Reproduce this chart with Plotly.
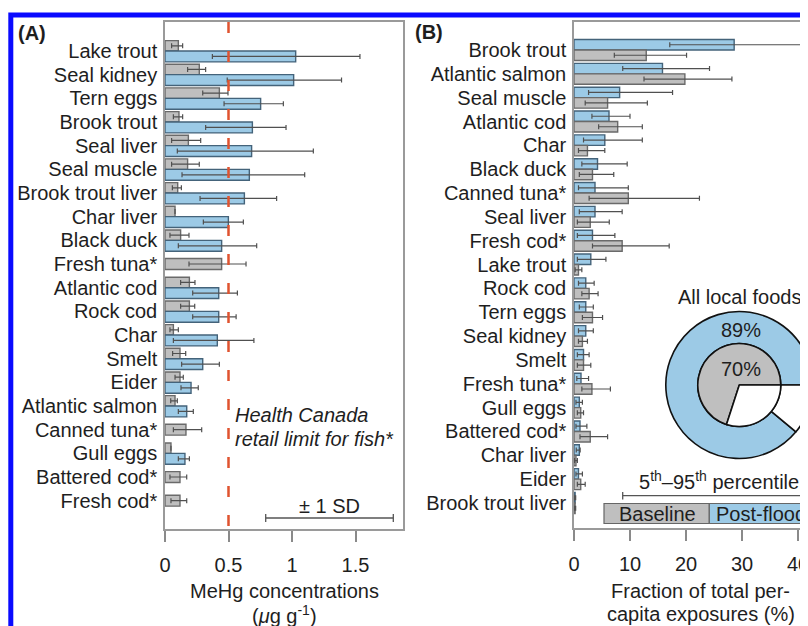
import plotly.graph_objects as go

W, H = 808, 626
OFF = 8  # page body margin offset


def px(x):
    return (x - OFF) / W


def py(y):
    return 1 - (y - OFF) / H


# ---------------- Panel A data: MeHg concentrations (ug/g) ----------------
A_foods = ["Lake trout", "Seal kidney", "Tern eggs", "Brook trout", "Seal liver",
           "Seal muscle", "Brook trout liver", "Char liver", "Black duck", "Fresh tuna*",
           "Atlantic cod", "Rock cod", "Char", "Smelt", "Eider", "Atlantic salmon",
           "Canned tuna*", "Gull eggs", "Battered cod*", "Fresh cod*"]
A_base    = [0.105, 0.27, 0.428, 0.11, 0.184, 0.178, 0.10, 0.079, 0.123, 0.446,
             0.192, 0.192, 0.066, 0.118, 0.118, 0.079, 0.165, 0.047, 0.118, 0.118]
A_base_lo = [0.052, 0.178, 0.297, 0.066, 0.052, 0.052, 0.058, 0.079, 0.039, 0.189,
             0.123, 0.123, 0.039, 0.060, 0.079, 0.045, 0.066, 0.047, 0.039, 0.047]
A_base_hi = [0.139, 0.32, 0.496, 0.139, 0.281, 0.27, 0.129, 0.079, 0.189, 0.638,
             0.236, 0.234, 0.105, 0.163, 0.144, 0.097, 0.289, 0.047, 0.171, 0.171]
A_post    = [1.029, 1.013, 0.753, 0.688, 0.682, 0.664, 0.625, 0.499, 0.446, None,
             0.423, 0.423, 0.412, 0.297, 0.205, 0.171, None, 0.157, None, None]
A_post_lo = [0.373, 0.49, 0.465, 0.32, 0.097, 0.134, 0.276, 0.302, 0.105, None,
             0.218, 0.218, 0.066, 0.131, 0.126, 0.105, None, 0.105, None, None]
A_post_hi = [1.535, 1.39, 0.932, 0.953, 1.168, 1.10, 0.879, 0.617, 0.722, None,
             0.57, 0.56, 0.70, 0.428, 0.262, 0.223, None, 0.192, None, None]
A_ticks = [0, 0.5, 1, 1.5]
A_tick_labels = ["0", "0.5", "1", "1.5"]
HC_LIMIT = 0.5

# ---------------- Panel B data: fraction of exposures (%) ----------------
B_foods = ["Brook trout", "Atlantic salmon", "Seal muscle", "Atlantic cod", "Char",
           "Black duck", "Canned tuna*", "Seal liver", "Fresh cod*", "Lake trout",
           "Rock cod", "Tern eggs", "Seal kidney", "Smelt", "Fresh tuna*", "Gull eggs",
           "Battered cod*", "Char liver", "Eider", "Brook trout liver"]
B_post    = [28.6, 15.8, 8.15, 6.25, 5.5, 4.2, 3.75, 3.75, 3.3, 3.0,
             2.1, 2.1, 2.1, 1.7, 1.25, 0.95, 1.07, 0.95, 0.8, 0.2]
B_post_lo = [17.1, 8.7, 2.6, 3.2, 1.7, 1.4, 0.8, 0.95, 0.6, 0.6,
             0.8, 0.95, 0.8, 0.6, 0.5, 0.35, 0.35, 0.4, 0.35, 0.1]
B_post_hi = [41.6, 24.2, 17.6, 10.0, 12.2, 9.5, 9.7, 8.6, 7.3, 5.7,
             3.6, 3.45, 3.45, 2.7, 2.6, 1.5, 2.3, 1.1, 1.5, 0.3]
B_base    = [12.9, 19.8, 6.0, 7.8, 2.4, 3.3, 9.7, 2.9, 8.6, 0.8,
             2.7, 3.3, 1.5, 1.7, 3.2, 1.2, 2.9, 0.35, 1.2, 0.2]
B_base_lo = [7.2, 12.5, 2.0, 4.4, 0.8, 0.95, 2.7, 0.6, 3.3, 0.2,
             1.4, 1.5, 0.8, 0.6, 1.4, 0.6, 1.07, 0.1, 0.6, 0.1]
B_base_hi = [20.1, 28.2, 13.1, 12.2, 5.5, 7.1, 22.4, 6.3, 17.0, 1.4,
             4.3, 5.1, 2.4, 3.0, 6.5, 1.7, 6.0, 0.6, 2.0, 0.3]
B_ticks = [0, 10, 20, 30, 40]

# Donut: all local foods share of exposure
PIE_LABELS = ["Local foods", "Other"]
PIE_POST = [89, 11]
PIE_BASE = [70, 30]

GRAY = "#bfbfbf"; GRAY_EDGE = "#6a6a6a"
BLUE = "#9ccae6"; BLUE_EDGE = "#44637a"
ERR = "#505050"
RED = "#e0532f"
FONT = "Liberation Sans, Arial, Helvetica, sans-serif"
TXT = "#1e1e1e"


def err_plus(v, hi):
    return [None if a is None else b - a for a, b in zip(v, hi)]


def err_minus(v, lo):
    return [None if a is None else a - b for a, b in zip(v, lo)]


def errx(v, lo, hi):
    return dict(type="data", symmetric=False, array=err_plus(v, hi),
                arrayminus=err_minus(v, lo), color=ERR, thickness=1.2, width=2.5)


fig = go.Figure()

single = [p is None for p in A_post]
fig.add_trace(go.Bar(
    x=A_base, y=A_foods, orientation="h", name="Baseline",
    offset=[-0.23 if s else -0.44 for s in single],
    width=[0.46 if s else 0.44 for s in single],
    marker=dict(color=GRAY, line=dict(color=GRAY_EDGE, width=1.4)),
    error_x=errx(A_base, A_base_lo, A_base_hi),
    xaxis="x", yaxis="y", showlegend=False, hoverinfo="x+y"))
fig.add_trace(go.Bar(
    x=A_post, y=A_foods, orientation="h", name="Post-flood",
    offset=0, width=0.46,
    marker=dict(color=BLUE, line=dict(color=BLUE_EDGE, width=1.4)),
    error_x=errx(A_post, A_post_lo, A_post_hi),
    xaxis="x", yaxis="y", showlegend=False, hoverinfo="x+y"))

fig.add_trace(go.Bar(
    x=B_post, y=B_foods, orientation="h", name="Post-flood",
    offset=-0.44, width=0.44,
    marker=dict(color=BLUE, line=dict(color=BLUE_EDGE, width=1.4)),
    error_x=errx(B_post, B_post_lo, B_post_hi),
    xaxis="x2", yaxis="y2", showlegend=False, hoverinfo="x+y"))
fig.add_trace(go.Bar(
    x=B_base, y=B_foods, orientation="h", name="Baseline",
    offset=0, width=0.44,
    marker=dict(color=GRAY, line=dict(color=GRAY_EDGE, width=1.4)),
    error_x=errx(B_base, B_base_lo, B_base_hi),
    xaxis="x2", yaxis="y2", showlegend=False, hoverinfo="x+y"))

# donut (outer = post-flood, inner = baseline); first slice ends at 3 o'clock
CX, CY, RO, RI = 739.3, 385, 73.5, 41.5
rot_post = 90 + 360 * PIE_POST[1] / sum(PIE_POST)
rot_base = 90 + 360 * PIE_BASE[1] / sum(PIE_BASE)
fig.add_trace(go.Pie(
    labels=PIE_LABELS, values=PIE_POST, hole=RI / RO, sort=False,
    direction="clockwise", rotation=rot_post, textinfo="none",
    marker=dict(colors=[BLUE, "white"], line=dict(color="#111", width=1.6)),
    domain=dict(x=[px(CX - RO), px(CX + RO)], y=[py(CY + RO), py(CY - RO)]),
    showlegend=False, hoverinfo="label+value"))
fig.add_trace(go.Pie(
    labels=PIE_LABELS, values=PIE_BASE, sort=False,
    direction="clockwise", rotation=rot_base, textinfo="none",
    marker=dict(colors=[GRAY, "white"], line=dict(color="#111", width=1.6)),
    domain=dict(x=[px(CX - RI), px(CX + RI)], y=[py(CY + RI), py(CY - RI)]),
    showlegend=False, hoverinfo="label+value"))

axis_common = dict(showgrid=False, zeroline=False, showline=True, linecolor="#9a9a9a",
                   linewidth=1.5, tickfont=dict(size=20, color=TXT, family=FONT))

fig.update_layout(
    width=W, height=H, margin=dict(l=0, r=0, t=0, b=0, autoexpand=False),
    paper_bgcolor="white", plot_bgcolor="white", barmode="overlay",
    font=dict(family=FONT, size=20, color=TXT),
    xaxis=dict(domain=[px(165), px(403)], range=[0, (403 - 165) / 127.0], anchor="y",
               tickvals=A_ticks, ticktext=A_tick_labels, ticks="outside", ticklen=11,
               tickwidth=1.5, tickcolor="#8a8a8a", mirror=True, ticklabelstandoff=6,
               **axis_common),
    yaxis=dict(domain=[py(529), py(22)], type="category", anchor="x",
               range=[20.196, -1.225], ticks="", mirror=True, ticklabelstandoff=2,
               tickmode="array", tickvals=A_foods, ticktext=A_foods,
               **axis_common),
    xaxis2=dict(domain=[px(574), 1], range=[0, (W + OFF - 574) / 5.6], anchor="y2",
                tickvals=B_ticks, ticks="outside", ticklen=11, tickwidth=1.5,
                tickcolor="#8a8a8a", mirror=True, ticklabelstandoff=6, **axis_common),
    yaxis2=dict(domain=[py(528), py(22)], type="category", anchor="x2",
                range=[20.05, -1.174], ticks="", mirror=False, ticklabelstandoff=2,
                tickmode="array", tickvals=B_foods, ticktext=B_foods,
                **axis_common),
)

shapes = []
# Health Canada retail limit
shapes.append(dict(type="line", xref="x", yref="paper", x0=HC_LIMIT, x1=HC_LIMIT,
                   y0=py(22), y1=py(529), line=dict(color=RED, width=2.5, dash="11px,18px")))
# +-1 SD legend line
shapes.append(dict(type="line", xref="paper", yref="paper", x0=px(265.7), x1=px(393.3),
                   y0=py(518), y1=py(518), line=dict(color="#555", width=1.3)))
for xx in (265.7, 393.3):
    shapes.append(dict(type="line", xref="paper", yref="paper", x0=px(xx), x1=px(xx),
                       y0=py(514), y1=py(522), line=dict(color="#555", width=1.3)))
# 5th-95th percentile legend line
shapes.append(dict(type="line", xref="paper", yref="paper", x0=px(622.7), x1=1.05,
                   y0=py(495.7), y1=py(495.7), line=dict(color="#555", width=1.3)))
shapes.append(dict(type="line", xref="paper", yref="paper", x0=px(622.7), x1=px(622.7),
                   y0=py(492), y1=py(499.5), line=dict(color="#555", width=1.3)))
# Baseline / Post-flood legend box
shapes.append(dict(type="rect", xref="paper", yref="paper", x0=px(604), x1=px(709.3),
                   y0=py(523.5), y1=py(503.5), fillcolor=GRAY,
                   line=dict(color="#666", width=1.2)))
shapes.append(dict(type="rect", xref="paper", yref="paper", x0=px(709.3), x1=1.05,
                   y0=py(523.5), y1=py(503.5), fillcolor=BLUE,
                   line=dict(color="#666", width=1.2)))
# blue outer frame of the figure
shapes.append(dict(type="rect", xref="paper", yref="paper", x0=px(10.8), x1=1.1,
                   y0=-0.1, y1=py(15), line=dict(color="#0a0aff", width=5),
                   fillcolor="rgba(0,0,0,0)"))
fig.update_layout(shapes=shapes)


def ann(text, x, y, xanchor="center", size=20, **kw):
    return dict(text=text, x=px(x), y=py(y), xref="paper", yref="paper",
                xanchor=xanchor, yanchor="middle", showarrow=False,
                font=dict(size=size, color=TXT, family=FONT), **kw)


annotations = [
    ann("<b>(A)</b>", 16, 33, "left"),
    ann("<b>(B)</b>", 413, 32, "left"),
    ann("<i>Health Canada</i>", 233, 415, "left"),
    ann("<i>retail limit for fish*</i>", 233, 439, "left"),
    ann("± 1 SD", 329.5, 506),
    ann("MeHg concentrations", 284, 591),
    ann("(<i>μ</i>g g<sup>-1</sup>)", 284, 614),
    ann("Fraction of total per-", 700, 591),
    ann("capita exposures (%)", 701, 614),
    ann("All local foods", 739, 297),
    ann("89%", 741, 330),
    ann("70%", 741, 369),
    ann("5<sup>th</sup>–95<sup>th</sup> percentile", 718.5, 480),
    ann("Baseline", 657, 514),
    ann("Post-flood", 714, 514, "left"),
]
fig.update_layout(annotations=annotations)

fig.write_html("out.html")
